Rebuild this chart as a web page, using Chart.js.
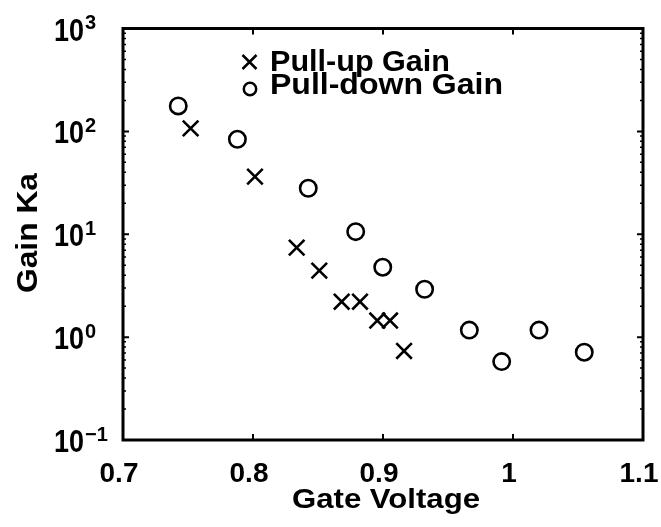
<!DOCTYPE html>
<html>
<head>
<meta charset="utf-8">
<script src="https://cdn.jsdelivr.net/npm/chart.js@4/dist/chart.umd.min.js"></script>
<style>
  html, body { margin: 0; padding: 0; background: #fff; }
  canvas { display: block; }
</style>
</head>
<body>
<canvas id="c" width="661" height="527"></canvas>
<script>
// Gain Ka versus gate voltage for the pull-up and pull-down stages
const pullUpVoltage   = [0.752, 0.8015, 0.8336, 0.851, 0.8682, 0.8823, 0.8956, 0.9054, 0.9162];
const pullUpGain      = [107, 36.3, 7.41, 4.43, 2.21, 2.21, 1.45, 1.45, 0.734];
const pullDownVoltage = [0.7425, 0.788, 0.8425, 0.879, 0.8998, 0.932, 0.9664, 0.9913, 1.020, 1.0548];
const pullDownGain    = [176.6, 83.8, 28.0, 10.6, 4.78, 2.92, 1.17, 0.578, 1.17, 0.713];

const xTicks = [0.7, 0.8, 0.9, 1, 1.1];
const xTickLabels = ['0.7', '0.8', '0.9', '1', '1.1'];
const yTickExponents = [-1, 0, 1, 2, 3];
const yTickExponentLabels = ['\u22121', '0', '1', '2', '3'];
const seriesNames = ['Pull-up Gain', 'Pull-down Gain'];
const xTitle = 'Gate Voltage';
const yTitle = 'Gain Ka';

const FONT = '"Liberation Sans", Arial, Helvetica, sans-serif';

// Bold text, optionally stretched horizontally to a given width
function drawText(ctx, s, x, y, size, align, targetW) {
  ctx.save();
  ctx.font = 'bold ' + size + 'px ' + FONT;
  const w = ctx.measureText(s).width;
  const sx = targetW ? targetW / w : 1;
  const dw = w * sx;
  const left = align === 'center' ? x - dw / 2 : (align === 'right' ? x - dw : x);
  ctx.translate(left, y);
  ctx.scale(sx, 1);
  ctx.textAlign = 'left';
  ctx.textBaseline = 'alphabetic';
  ctx.fillStyle = '#000';
  ctx.fillText(s, 0, 0);
  ctx.restore();
  return dw;
}

// Boxed axes with inward ticks, tick labels, titles and the legend
const framePlugin = {
  id: 'frame',
  afterDraw(chart) {
    const ctx = chart.ctx;
    const a = chart.chartArea;
    const xs = chart.scales.x, ys = chart.scales.y;
    ctx.save();
    ctx.strokeStyle = '#000';
    ctx.lineCap = 'butt';

    // major ticks on all four sides
    ctx.lineWidth = 2;
    ctx.beginPath();
    xTicks.forEach(v => {
      const px = xs.getPixelForValue(v);
      ctx.moveTo(px, a.bottom); ctx.lineTo(px, a.bottom - 6);
      ctx.moveTo(px, a.top);    ctx.lineTo(px, a.top + 6);
    });
    yTickExponents.forEach(e => {
      const py = ys.getPixelForValue(Math.pow(10, e));
      ctx.moveTo(a.left, py);  ctx.lineTo(a.left + 6, py);
      ctx.moveTo(a.right, py); ctx.lineTo(a.right - 6, py);
    });
    ctx.stroke();

    // minor log ticks
    ctx.lineWidth = 1.5;
    ctx.beginPath();
    for (let e = yTickExponents[0]; e < yTickExponents[yTickExponents.length - 1]; e++) {
      for (let m = 2; m <= 9; m++) {
        const py = ys.getPixelForValue(m * Math.pow(10, e));
        ctx.moveTo(a.left, py);  ctx.lineTo(a.left + 3, py);
        ctx.moveTo(a.right, py); ctx.lineTo(a.right - 3, py);
      }
    }
    ctx.stroke();

    // axes box
    ctx.lineWidth = 3;
    ctx.strokeRect(a.left, a.top, a.right - a.left, a.bottom - a.top);

    // x tick labels
    xTicks.forEach((v, i) => {
      drawText(ctx, xTickLabels[i], xs.getPixelForValue(v) - 4, 482, 28, 'center');
    });

    // y tick labels: 10 with superscript exponent
    yTickExponents.forEach((e, i) => {
      const py = ys.getPixelForValue(Math.pow(10, e));
      const w = drawText(ctx, '10', 54, py + 12, 31, 'left', 30);
      drawText(ctx, yTickExponentLabels[i], 54 + w + 1, py + 0.5, 20, 'left');
    });

    // axis titles
    drawText(ctx, xTitle, 386, 508, 28, 'center', 188);
    ctx.save();
    ctx.translate(37, 233);
    ctx.rotate(-Math.PI / 2);
    drawText(ctx, yTitle, 0, 0, 30, 'center', 120);
    ctx.restore();

    // legend
    ctx.lineWidth = 2.5;
    ctx.beginPath();
    ctx.moveTo(249.5 - 7, 62 - 7); ctx.lineTo(249.5 + 7, 62 + 7);
    ctx.moveTo(249.5 - 7, 62 + 7); ctx.lineTo(249.5 + 7, 62 - 7);
    ctx.stroke();
    ctx.beginPath();
    ctx.arc(250, 89, 6.2, 0, Math.PI * 2);
    ctx.stroke();
    drawText(ctx, seriesNames[0], 270, 71, 29, 'left', 180);
    drawText(ctx, seriesNames[1], 270, 94, 29, 'left', 233);

    ctx.restore();
  }
};

new Chart(document.getElementById('c'), {
  type: 'scatter',
  data: {
    datasets: [
      {
        label: seriesNames[0],
        data: pullUpVoltage.map((v, i) => ({ x: v, y: pullUpGain[i] })),
        pointStyle: 'crossRot',
        pointRadius: 11,
        pointBorderWidth: 2.6,
        borderColor: '#000',
        backgroundColor: '#000'
      },
      {
        label: seriesNames[1],
        data: pullDownVoltage.map((v, i) => ({ x: v, y: pullDownGain[i] })),
        pointStyle: 'circle',
        pointRadius: 8.2,
        pointBorderWidth: 2.6,
        borderColor: '#000',
        backgroundColor: 'rgba(0,0,0,0)'
      }
    ]
  },
  options: {
    responsive: false,
    animation: false,
    devicePixelRatio: 1,
    layout: { padding: { top: 28.5, right: 18, left: 0, bottom: 0 } },
    plugins: { legend: { display: false }, tooltip: { enabled: false } },
    scales: {
      x: {
        type: 'linear', min: 0.7, max: 1.1,
        grid: { display: false }, border: { display: false }, ticks: { display: false },
        afterFit(s) { s.height = 87; }
      },
      y: {
        type: 'logarithmic', min: 0.1, max: 1000,
        grid: { display: false }, border: { display: false }, ticks: { display: false },
        afterFit(s) { s.width = 123; }
      }
    }
  },
  plugins: [framePlugin]
});
</script>
</body>
</html>
